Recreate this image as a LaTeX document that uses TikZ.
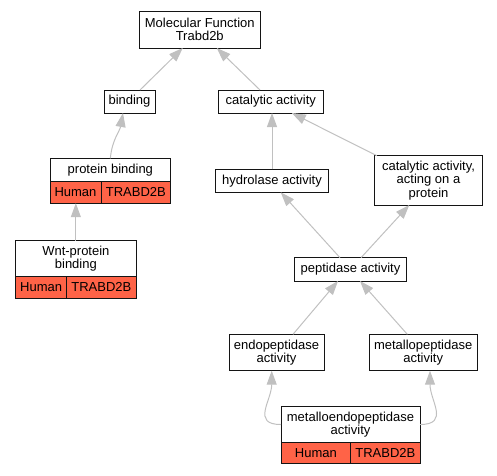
\documentclass[tikz,border=0pt]{standalone}
\usepackage{fontspec}
\setmainfont{Liberation Sans}
\usetikzlibrary{arrows.meta,positioning}
\definecolor{ink}{RGB}{20,20,20}
\definecolor{edge}{RGB}{192,192,192}
\definecolor{org}{RGB}{255,99,71}
\tikzset{
  term/.style={rectangle,draw=ink,fill=white,line width=1pt,align=center,inner sep=0pt,outer sep=0pt,font=\fontsize{13}{13.4}\selectfont},
  hit/.style={term,fill=org,minimum height=21.5pt},
  isa/.style={-{Triangle[length=14pt,width=10pt]},draw=edge,line width=1pt},
}

\begin{document}
\begin{tikzpicture}[x=1pt,y=-1pt]
\useasboundingbox (0,0) rectangle (497,475);
% terms
\node[term,minimum width=120.5pt,minimum height=37pt] (mf) at (199.75,29.5) {Molecular Function\\Trabd2b};
\node[term,minimum width=51pt,minimum height=23pt] (bind) at (129.5,101.5) {binding};
\node[term,minimum width=105pt,minimum height=23pt] (cat) at (270.75,101.5) {catalytic activity};
\node[term,minimum width=120.7pt,minimum height=23.4pt] (pbind) at (110.35,170) {protein binding};
\node[term,minimum width=120.3pt,minimum height=36pt] (wnt) at (75.85,258.7) {Wnt-protein\\binding};
\node[term,minimum width=112.6pt,minimum height=23pt] (hyd) at (272,180.8) {hydrolase activity};
\node[term,minimum width=108.4pt,minimum height=49.3pt] (catp) at (428.5,180.35) {catalytic activity,\\acting on a\\protein};
\node[term,minimum width=112.4pt,minimum height=23.3pt] (pep) at (350.5,269.35) {peptidase activity};
\node[term,minimum width=95pt,minimum height=36.4pt] (endo) at (276.5,352.5) {endopeptidase\\activity};
\node[term,minimum width=108.3pt,minimum height=36.4pt] (metp) at (423.15,352.5) {metallopeptidase\\activity};
\node[term,minimum width=139pt,minimum height=35.6pt] (mendo) at (350.5,424.5) {metalloendopeptidase\\activity};
% annotation rows
\node[hit,anchor=north west,minimum width=51pt] (pbh) at (pbind.south west) {Human};
\node[hit,anchor=north west,minimum width=69.7pt] (pbt) at (pbh.north east) {TRABD2B};
\node[hit,anchor=north west,minimum width=51pt] (wnth) at (wnt.south west) {Human};
\node[hit,anchor=north west,minimum width=69.3pt] (wntt) at (wnth.north east) {TRABD2B};
\node[hit,anchor=north west,minimum width=69.7pt] (mendoh) at (mendo.south west) {Human};
\node[hit,anchor=north west,minimum width=69.3pt] (mendot) at (mendoh.north east) {TRABD2B};
% is_a edges
\draw[isa] ([xshift=10.5pt]bind.north) -- ([xshift=-17pt]mf.south);
\draw[isa] ([xshift=-10.75pt]cat.north) -- ([xshift=17pt]mf.south);
\draw[isa] (pbind.north) to[out=85,in=-100] ([xshift=-6.5pt]bind.south);
\draw[isa] (wnt.north) -- (wnt.north |- pbh.south);
\draw[isa] (hyd.north) -- (hyd.north |- cat.south);
\draw[isa] ([xshift=2.5pt]catp.north west) -- ([xshift=21pt]cat.south);
\draw[isa] ([xshift=-10.5pt]pep.north) -- ([xshift=8.7pt]hyd.south);
\draw[isa] ([xshift=10.5pt]pep.north) -- ([xshift=-19.2pt]catp.south);
\draw[isa] ([xshift=16.5pt]endo.north) -- ([xshift=-12.5pt]pep.south);
\draw[isa] ([xshift=-15.85pt]metp.north) -- ([xshift=9.5pt]pep.south);
\draw[isa] (mendo.west) to[out=180,in=-90,looseness=1.4] ([xshift=-4.8pt]endo.south);
\draw[isa] (mendo.east) to[out=0,in=-90,looseness=1.4] ([xshift=6.85pt]metp.south);
\end{tikzpicture}
\end{document}
